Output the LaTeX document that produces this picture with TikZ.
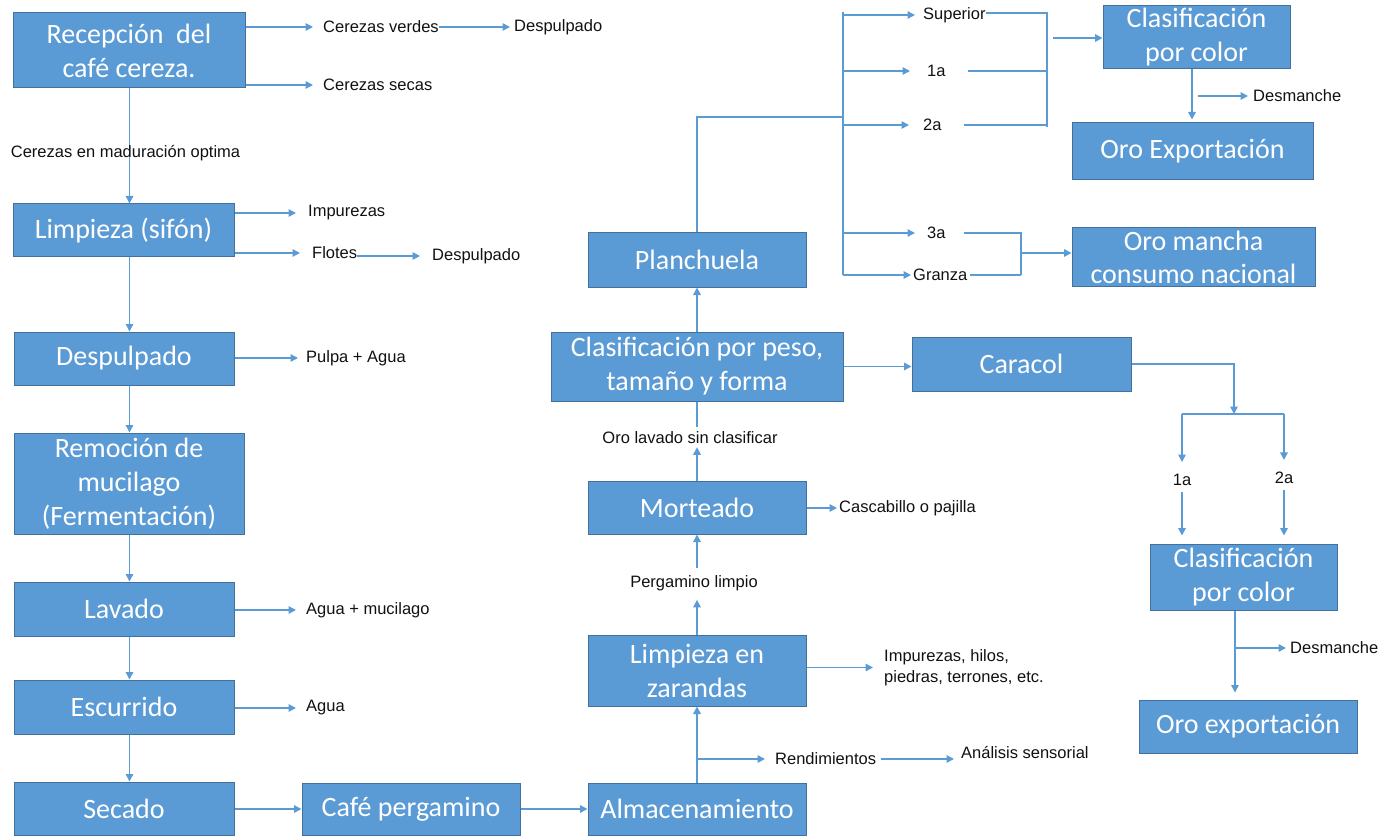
\documentclass[tikz,border=0pt]{standalone}
\usepackage{fontspec}
\setmainfont{Liberation Sans}
\newfontfamily\boxfont{Carlito}
\usetikzlibrary{arrows.meta}
\definecolor{boxfill}{HTML}{5B9BD5}
\definecolor{boxline}{HTML}{41719C}
\definecolor{linec}{HTML}{5B9BD5}
\definecolor{txt}{HTML}{111111}
\tikzset{
  box/.style={draw=boxline, fill=boxfill, line width=1pt, text=white, align=center,
    inner sep=0pt, font=\boxfont\fontsize{28}{34}\selectfont},
  lbl/.style={inner sep=0pt, text=txt, font=\fontsize{16.5}{21}\selectfont},
  conn/.style={draw=linec, line width=1.5pt},
  arr/.style={conn, -{Triangle[length=7.5pt,width=7.5pt]}}
}
\begin{document}
\begin{tikzpicture}[x=1pt,y=-1pt]
\useasboundingbox (0,0) rectangle (1398,837);
% ---- boxes ----
\node[box, minimum width=232pt, minimum height=75pt] (recep) at (129,50.5) {Recepción~ del\\café cereza.};
\node[box, minimum width=221pt, minimum height=53pt] (limp) at (123.5,230.5) {Limpieza (sifón)};
\node[box, minimum width=220pt, minimum height=53pt] (desp) at (124,358.5) {Despulpado};
\node[box, minimum width=230pt, minimum height=101pt] (remo) at (129,483.5) {Remoción de\\mucilago\\(Fermentación)};
\node[box, minimum width=220pt, minimum height=54pt] (lava) at (124,609) {Lavado};
\node[box, minimum width=220pt, minimum height=54pt] (escu) at (124,707) {Escurrido};
\node[box, minimum width=220pt, minimum height=53pt] (seca) at (124,808.5) {Secado};
\node[box, minimum width=218pt, minimum height=52pt] (cafe) at (411,809) {Café pergamino};
\node[box, minimum width=218pt, minimum height=52pt] (alma) at (697,809) {Almacenamiento};
\node[box, minimum width=218pt, minimum height=71pt] (zara) at (697,670.5) {Limpieza en\\zarandas};
\node[box, minimum width=218pt, minimum height=53pt] (mort) at (697,507.5) {Morteado};
\node[box, minimum width=292pt, minimum height=69pt] (clpe) at (697,366.5) {Clasificación por peso,\\tamaño y forma};
\node[box, minimum width=219pt, minimum height=54pt] (cara) at (1021.5,364) {Caracol};
\node[box, minimum width=218pt, minimum height=54pt] (plan) at (697,260) {Planchuela};
\node[box, minimum width=187pt, minimum height=63pt] (cc1) at (1196.5,37.5) {Clasificación\\por color};
\node[box, minimum width=241pt, minimum height=57pt] (oex1) at (1192.5,151.5) {Oro Exportación};
\node[box, minimum width=243pt, minimum height=58pt, font=\boxfont\fontsize{28}{33}\selectfont] (oman) at (1193.5,257) {Oro mancha\\consumo nacional};
\node[box, minimum width=187pt, minimum height=66pt] (cc2) at (1243.5,577) {Clasificación\\por color};
\node[box, minimum width=218pt, minimum height=53pt] (oex2) at (1248,726.5) {Oro exportación};
% ---- labels ----
\node[lbl, anchor=west] (cv) at (323,27) {Cerezas verdes};
\node[lbl, anchor=west] (dp1) at (514,27) {Despulpado};
\node[lbl, anchor=west] (cs) at (323,85) {Cerezas secas};
\node[lbl, anchor=west] (imp) at (308,213) {Impurezas};
\node[lbl, anchor=west] (flo) at (312,253) {Flotes};
\node[lbl, anchor=west] (dp2) at (432,256) {Despulpado};
\node[lbl, anchor=west] (pa) at (306,358) {Pulpa + Agua};
\node[lbl, anchor=west] (am) at (306,610) {Agua + mucilago};
\node[lbl, anchor=west] (ag) at (306,708) {Agua};
\node[lbl, anchor=west] (rend) at (775,759) {Rendimientos};
\node[lbl, anchor=west] (anal) at (961,753) {Análisis sensorial};
\node[lbl, anchor=west, align=left] (ihp) at (884,667.5) {Impurezas, hilos,\\piedras, terrones, etc.};
\node[lbl] (pl) at (694,583) {Pergamino limpio};
\node[lbl] (olsc) at (690,438) {Oro lavado sin clasificar};
\node[lbl, anchor=west] (casc) at (839,508) {Cascabillo o pajilla};
\node[lbl, anchor=west] (sup) at (923,15) {Superior};
\node[lbl, anchor=west] (l1a) at (927,71) {1a};
\node[lbl, anchor=west] (l2a) at (923,125) {2a};
\node[lbl, anchor=west] (l3a) at (927,233) {3a};
\node[lbl, anchor=west] (gra) at (913,275) {Granza};
\node[lbl, anchor=west] (des1) at (1253,96) {Desmanche};
\node[lbl] (c1a) at (1182,480) {1a};
\node[lbl] (c2a) at (1284,478) {2a};
\node[lbl, anchor=west] (des2) at (1290,648) {Desmanche};
% ---- left column connectors ----
\coordinate (sp) at (129.5,0);
\draw[arr] (recep.east |- cv.west) -- ([xshift=-10pt]cv.west);
\draw[arr] (cv.east) -- ([xshift=-4pt]dp1.west);
\draw[arr] (recep.east |- cs.west) -- ([xshift=-10pt]cs.west);
\draw[arr] (recep.south -| sp) -- (limp.north -| sp);
\node[lbl] (cmo) at (125.5,153) {Cerezas en maduración optima};
\draw[arr] (limp.east |- imp.west) -- ([xshift=-12pt]imp.west);
\draw[arr] (limp.east |- flo.west) -- ([xshift=-12pt]flo.west);
\draw[arr] (flo.east |- dp2.west) -- ([xshift=-12pt]dp2.west);
\draw[arr] (limp.south -| sp) -- (desp.north -| sp);
\draw[arr] (desp.east |- pa.west) -- ([xshift=-8pt]pa.west);
\draw[arr] (desp.south -| sp) -- (remo.north -| sp);
\draw[arr] (remo.south -| sp) -- (lava.north -| sp);
\draw[arr] (lava.east |- am.west) -- ([xshift=-10pt]am.west);
\draw[arr] (lava.south -| sp) -- (escu.north -| sp);
\draw[arr] (escu.east |- ag.west) -- ([xshift=-10pt]ag.west);
\draw[arr] (escu.south -| sp) -- (seca.north -| sp);
\draw[arr] (seca.east |- cafe.west) -- (cafe.west);
\draw[arr] (cafe.east) -- (alma.west);
% ---- middle column ----
\draw[arr] (alma.north) -- (zara.south);
\draw[arr] (alma.north |- rend.west) -- ([xshift=-10pt]rend.west);
\draw[arr] ([xshift=5pt]rend.east) -- ([xshift=-7pt]anal.west |- rend.east);
\draw[arr] (zara.east |- ihp.west) -- ([xshift=-11pt]ihp.west);
\draw[arr] (zara.north) -- ([yshift=-9pt]pl.south -| zara.north);
\draw[arr] ([yshift=7pt]pl.north -| zara.north) -- (mort.south);
\draw[arr] (mort.east |- casc.west) -- ([xshift=-2pt]casc.west);
\draw[arr] (mort.north) -- ([yshift=-3pt]olsc.south -| mort.north);
\draw[conn] ([yshift=5pt]olsc.north -| clpe.south) -- (clpe.south);
\draw[arr] (clpe.north) -- (plan.south);
\draw[arr] (clpe.east) -- (cara.west |- clpe.east);
% ---- caracol branch ----
\coordinate (cj) at (1234,414);
\draw[arr] (cara.east) -| (cj);
\draw[conn] (c1a |- cj) -- (c2a |- cj);
\draw[arr] (c1a |- cj) -- ([yshift=12pt]c1a.north);
\draw[arr] (c2a |- cj) -- ([yshift=12pt]c2a.north);
\draw[arr] ([yshift=-6pt]c1a.south) -- ([yshift=8pt]cc2.north -| c1a);
\draw[arr] ([yshift=-6pt]c2a.south) -- ([yshift=8pt]cc2.north -| c2a);
\coordinate (c2x) at (1235,0);
\draw[arr] (cc2.south -| c2x) -- ([yshift=7pt]oex2.north -| c2x);
\draw[arr] (c2x |- des2.west) -- ([xshift=-4pt]des2.west);
% ---- planchuela branch ----
\coordinate (vt) at (843,12);
\coordinate (vb) at (843,275);
\coordinate (pj) at (843,117);
\draw[conn] (plan.north) |- (pj);
\draw[conn] (vt) -- (vb);
\draw[arr] (vt |- sup.west) -- ([xshift=-8pt]sup.west);
\draw[arr] (vt |- l1a.west) -- ([xshift=-17pt]l1a.west);
\draw[arr] (vt |- l2a.west) -- ([xshift=-14pt]l2a.west);
\draw[arr] (vt |- l3a.west) -- ([xshift=-12pt]l3a.west);
\draw[arr] (vt |- gra.west) -- ([xshift=-2pt]gra.west);
\coordinate (b1t) at (1047,13);
\coordinate (b1b) at (1047,127);
\draw[conn] (sup.east |- b1t) -- (b1t) -- (b1b);
\draw[conn] ([xshift=22pt]l1a.east) -- (b1t |- l1a.east);
\draw[conn] ([xshift=22pt]l2a.east) -- (b1b |- l2a.east);
\coordinate (b1m) at (1053,38);
\draw[arr] (b1m) -- (cc1.west |- b1m);
\coordinate (c1x) at (1192,0);
\draw[arr, shorten >=3pt] (cc1.south -| c1x) -- (oex1.north -| c1x);
\coordinate (d1s) at (1198,96);
\draw[arr] (d1s) -- ([xshift=-5pt]des1.west |- d1s);
\coordinate (b2t) at (1021,232);
\coordinate (b2b) at (1021,275);
\draw[conn] ([xshift=18pt]l3a.east) -- (b2t |- l3a.east);
\draw[conn] (b2t) -- (b2b);
\draw[conn] ([xshift=2pt]gra.east) -- (b2b |- gra.east);
\coordinate (b2m) at (1021,253);
\draw[arr] (b2m) -- (oman.west |- b2m);
\end{tikzpicture}
\end{document}
